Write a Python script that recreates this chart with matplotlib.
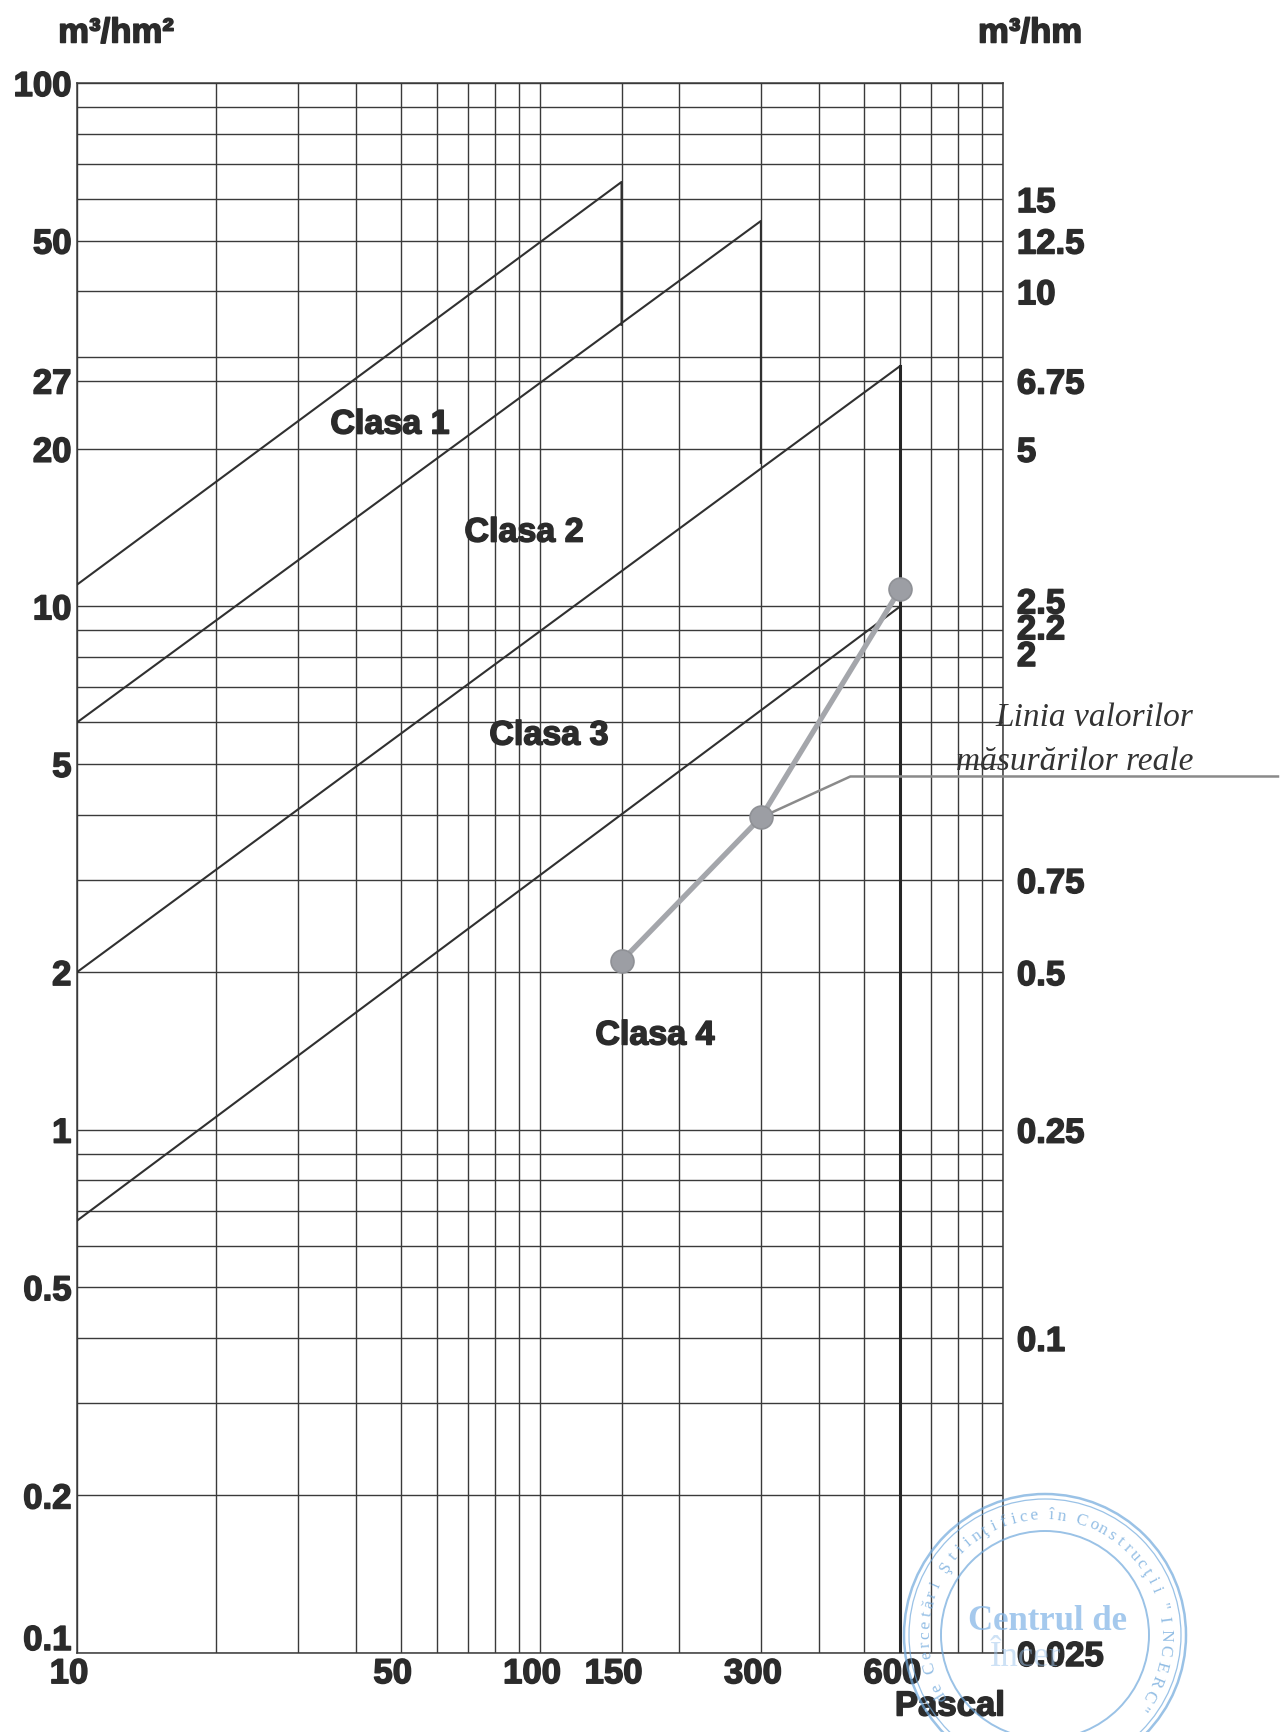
import matplotlib
matplotlib.use("Agg")
import matplotlib.pyplot as plt
import matplotlib.patheffects as pe
import matplotlib.transforms as mtransforms
import numpy as np
from matplotlib.patches import Circle
from matplotlib.ticker import NullLocator

plt.rcParams["font.family"] = ["Liberation Sans", "DejaVu Sans"]

INK = "#2b2b2b"
GRID = "#3a3a3a"
HEAVY = [pe.withStroke(linewidth=1.1, foreground=INK)]  # scan ink looks heavier than plain bold

# pressure axis (Pa)
x_grid = [10, 20, 30, 40, 50, 60, 70, 80, 90, 100, 150,
          200, 300, 400, 500, 600, 700, 800, 900, 1000]
x_ticks = [10, 50, 100, 150, 300, 600]

# flow axis, m3/hm2 (left)
y_grid = [0.1, 0.2, 0.3, 0.4, 0.5, 0.6, 0.7, 0.8, 0.9,
          1, 2, 3, 4, 5, 6, 7, 8, 9,
          10, 20, 27, 30, 40, 50, 60, 70, 80, 90, 100]
y_ticks_left = [100, 50, 27, 20, 10, 5, 2, 1, 0.5, 0.2, 0.1]
y_labels_left = ["100", "50", "27", "20", "10", "5", "2", "1", "0.5", "0.2", "0.1"]

# m3/hm (right) -> sits on the m3/hm2 value it matches
y_ticks_right = [60, 50, 40, 27, 20, 10, 9, 8, 3, 2, 1, 0.4, 0.1]
y_labels_right = ["15", "12.5", "10", "6.75", "5", "2.5", "2.2", "2",
                  "0.75", "0.5", "0.25", "0.1", "0.025"]

# class limit lines (Pa, m3/hm2)
clasa1_p = [10, 150, 150]
clasa1_q = [11.0, 64.7, 34.5]
clasa2_p = [10, 300, 300]
clasa2_q = [6.0, 54.5, 18.8]
clasa3_p = [10, 600]
clasa3_q = [2.0, 28.8]
clasa3_drop_p = [600, 600]
clasa3_drop_q = [28.8, 0.1]
clasa4_p = [10, 600]
clasa4_q = [0.67, 10.0]

class_names = ["Clasa 1", "Clasa 2", "Clasa 3", "Clasa 4"]
class_label_p = [47.4, 92.3, 104.5, 177]
class_label_q = [22.2, 13.8, 5.65, 1.51]

# measured values
meas_p = [150, 300, 600]
meas_q = [2.1, 3.95, 10.8]

# leader line of the annotation
lead_p = [300, 468, 3950]
lead_q = [3.95, 4.73, 4.73]

fig = plt.figure(figsize=(12.82, 17.32), dpi=100)
fig.patch.set_facecolor("white")
ax = fig.add_axes([77 / 1282, 79 / 1732, 926 / 1282, 1570 / 1732])
ax.set_xscale("log")
ax.set_yscale("log")
ax.set_xlim(10, 1000)
ax.set_ylim(0.1, 100)

ax.vlines(x_grid, 0.1, 100, color=GRID, lw=1.0, zorder=1)
ax.hlines(y_grid, 10, 1000, color=GRID, lw=1.0, zorder=1)

for p, q in [(clasa1_p, clasa1_q), (clasa2_p, clasa2_q),
             (clasa3_p, clasa3_q), (clasa4_p, clasa4_q)]:
    ax.plot(p, q, color="#303030", lw=1.5, zorder=3)
ax.plot(clasa3_drop_p, clasa3_drop_q, color="#262626", lw=2.2, zorder=3)

for name, p, q in zip(class_names, class_label_p, class_label_q):
    ax.text(p, q, name, ha="center", va="center", fontsize=24.5,
            fontweight="bold", color=INK, zorder=4, path_effects=HEAVY)

ax.plot(lead_p, lead_q, color="#8a8a8a", lw=1.8, zorder=4, clip_on=False,
        solid_capstyle="butt")
ax.plot(meas_p, meas_q, color="#a4a6ab", lw=3.8, zorder=5,
        marker="o", ms=16.5, mfc="#9c9ea4", mec="#8f9196", mew=1.2)

for s in ax.spines.values():
    s.set_color(GRID)
    s.set_linewidth(1.1)

ax.xaxis.set_minor_locator(NullLocator())
ax.yaxis.set_minor_locator(NullLocator())
ax.set_xticks(x_ticks, labels=[str(v) for v in x_ticks])
ax.set_yticks(y_ticks_left, labels=y_labels_left)
ax.tick_params(axis="both", length=0, labelsize=25, labelcolor=INK)
ax.tick_params(axis="y", pad=4)
ax.tick_params(axis="x", pad=3)
for lab in ax.get_xticklabels() + ax.get_yticklabels():
    lab.set_fontweight("bold")
    lab.set_path_effects(HEAVY)

# nudges as on the original sheet
shift_left = mtransforms.ScaledTranslation(-8 / 100, 0, fig.dpi_scale_trans)
for lab in ax.get_xticklabels():
    lab.set_transform(lab.get_transform() + shift_left)
lab01 = ax.get_yticklabels()[-1]
lab01.set_transform(lab01.get_transform() +
                    mtransforms.ScaledTranslation(0, 16 / 100, fig.dpi_scale_trans))

ax2 = ax.twinx()
ax2.set_yscale("log")
ax2.set_ylim(ax.get_ylim())
ax2.yaxis.set_minor_locator(NullLocator())
ax2.set_yticks(y_ticks_right, labels=y_labels_right)
ax2.tick_params(axis="y", length=0, pad=10, labelsize=25, labelcolor=INK)
for lab in ax2.get_yticklabels():
    lab.set_fontweight("bold")
    lab.set_path_effects(HEAVY)
for s in ax2.spines.values():
    s.set_visible(False)
# the crowded 2.5 / 2.2 / 2 group sits a little higher on the sheet
for lab, dy in zip(ax2.get_yticklabels()[5:8], [6, 4, 4]):
    lab.set_transform(lab.get_transform() +
                      mtransforms.ScaledTranslation(0, dy / 100, fig.dpi_scale_trans))

for x, y, s, ha in [(116, 33, "m³/hm²", "center"), (1030, 33, "m³/hm", "center"),
                    (1005, 1706, "Pascal", "right")]:
    fig.text(x / 1282, 1 - y / 1732, s, ha=ha, va="center", fontsize=25,
             fontweight="bold", color=INK, path_effects=HEAVY)

fig.text(1193 / 1282, 1 - 718 / 1732, "Linia valorilor", ha="right", va="center",
         fontsize=24, style="italic", family="Liberation Serif", color="#333333")
fig.text(1193 / 1282, 1 - 762 / 1732, "măsurărilor reale", ha="right", va="center",
         fontsize=24, style="italic", family="Liberation Serif", color="#333333")

# faint laboratory stamp, bottom right (drawn over the grid, cut by the sheet edge)
STAMP = "#6fa8dc"
axs = fig.add_axes([(1045 - 150) / 1282, (1732 - 1635 - 150) / 1732,
                    300 / 1282, 300 / 1732], zorder=5)
axs.set_xlim(-150, 150)
axs.set_ylim(-150, 150)
axs.axis("off")
for r, w in [(141, 1.8), (136, 0.9), (104, 1.4)]:
    axs.add_patch(Circle((0, 0), r, fill=False, ec=STAMP, lw=w, alpha=0.7))
arc_text = 'Institutul de Cercetări Ştiinţifice în Construcţii "INCERC"'
theta = 268.0
for ch in arc_text:
    step = 7.5 if ch.isupper() else (3.5 if ch == " " else 4.9)
    mid = theta - step / 2
    theta -= step
    t = np.radians(mid)
    cx, cy = 120 * np.cos(t), 120 * np.sin(t)
    if cy < -75:
        continue
    axs.text(cx, cy, ch, rotation=mid - 90, rotation_mode="anchor",
             ha="center", va="center", fontsize=12.5,
             family="Liberation Serif", color=STAMP, alpha=0.75)
axs.text(2, 13, "Centrul de", ha="center", va="center", fontsize=25,
         fontweight="bold", family="Liberation Serif", color="#7fb3e6", alpha=0.7)
axs.text(-20, -22, "Încer", ha="center", va="center", fontsize=25,
         family="Liberation Serif", color="#9cc4ec", alpha=0.5)

fig.savefig("out.png", dpi=100, facecolor="white")
plt.close(fig)
